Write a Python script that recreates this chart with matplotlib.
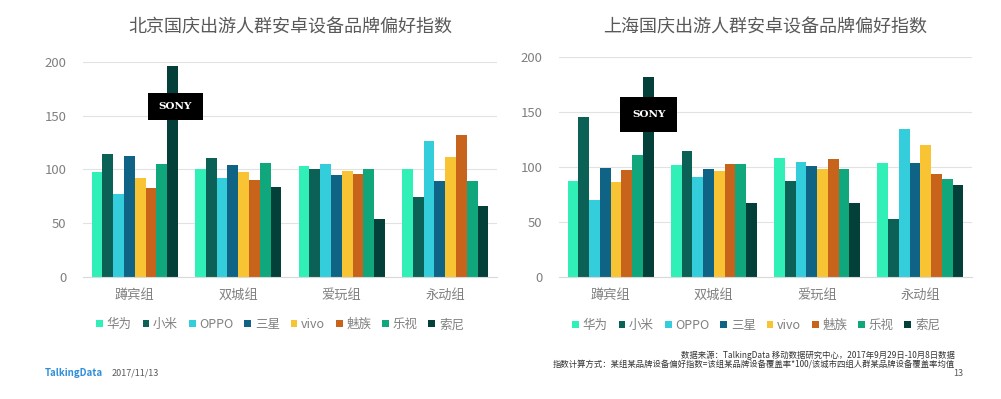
import numpy as np
import matplotlib
matplotlib.use('Agg')
import matplotlib.pyplot as plt

plt.rcParams['font.family'] = ['Noto Sans CJK SC', 'DejaVu Sans']

# data

groups = ['蹲宾组', '双城组', '爱玩组', '永动组']
brands = ['华为', '小米', 'OPPO', '三星', 'vivo', '魅族', '乐视', '索尼']
colors = ['#30F0B8', '#0B6155', '#33CDDC', '#0F6486', '#F8C433', '#C8631B', '#0FA77B', '#04403A']

beijing = [
    [98, 100, 103, 100],   # 华为
    [114, 111, 100, 74],   # 小米
    [77, 92, 105, 127],    # OPPO
    [113, 104, 95, 89],    # 三星
    [92, 98, 99, 112],     # vivo
    [83, 90, 96, 132],     # 魅族
    [105, 106, 100, 89],   # 乐视
    [197, 84, 54, 66],     # 索尼
]
shanghai = [
    [87, 102, 108, 104],
    [146, 115, 87, 53],
    [70, 91, 105, 135],
    [99, 98, 101, 104],
    [86, 96, 98, 120],
    [97, 103, 107, 94],
    [111, 103, 98, 89],
    [182, 67, 67, 84],
]

titles = ['北京国庆出游人群安卓设备品牌偏好指数', '上海国庆出游人群安卓设备品牌偏好指数']

fig = plt.figure(figsize=(10.01, 3.99), dpi=100)
ax1 = fig.add_axes([83 / 1001, 1 - 276.7 / 399, 414 / 1001, 214.4 / 399])
ax2 = fig.add_axes([559 / 1001, 1 - 276.7 / 399, 413 / 1001, 219.4 / 399])

width = 0.104
x = np.arange(len(groups))


def draw(ax, data, title, sony_x, sony_y, pad_x, pad_y):
    for i, vals in enumerate(data):
        ax.bar(x + (i - 3.5) * width, vals, width, color=colors[i], label=brands[i], zorder=2)
    ax.set_xlim(-0.5, 3.5)
    ax.set_ylim(0, 200)
    ax.set_yticks([0, 50, 100, 150, 200])
    ax.grid(axis='y', color='#e2e2e2', linewidth=0.8, zorder=0)
    for s in ['top', 'right', 'left']:
        ax.spines[s].set_visible(False)
    ax.spines['bottom'].set_color('#d9d9d9')
    ax.tick_params(axis='both', length=0, colors='#808080', labelsize=9.5)
    ax.tick_params(axis='y', pad=12)
    ax.tick_params(axis='x', pad=9)
    ax.set_xticks(x)
    ax.set_xticklabels(groups)
    pos = ax.get_position()
    fig.text(pos.x0 + pos.width / 2, 1 - 28 / 399, title, fontsize=13, color='#595959',
             ha='center', va='center')
    # SONY badge over the 索尼 bar
    cx = 3.5 * width + sony_x
    ax.text(cx, sony_y, 'SONY', color='white', fontsize=7.5, fontweight='bold',
            family='DejaVu Serif', ha='center', va='center', zorder=5)
    ax.add_patch(plt.Rectangle((cx - pad_x, sony_y - pad_y), 2 * pad_x, 2 * pad_y,
                               facecolor='black', edgecolor='none', zorder=4))
    ax.legend(loc='upper left', bbox_to_anchor=(0.02, -0.17), ncol=8, frameon=False,
              handlelength=0.55, handleheight=0.55, handletextpad=0.3, columnspacing=0.85,
              fontsize=9, labelcolor='#808080', borderaxespad=0)


draw(ax1, beijing, titles[0], 0.03, 159, 0.27, 12.6)
draw(ax2, shanghai, titles[1], 0.005, 148, 0.276, 16)

fig.text(45 / 1001, 1 - 373 / 399, 'TalkingData', color='#2F8FD8', fontsize=7, fontweight='bold', va='center')
fig.text(112 / 1001, 1 - 373 / 399, '2017/11/13', color='#595959', fontsize=6.5, va='center')
fig.text(955 / 1001, 1 - 355 / 399, '数据来源：TalkingData 移动数据研究中心，2017年9月29日-10月8日数据',
         color='#333333', fontsize=6, ha='right', va='center')
fig.text(955 / 1001, 1 - 364 / 399,
         '指数计算方式：某组某品牌设备偏好指数=该组某品牌设备覆盖率*100/该城市四组人群某品牌设备覆盖率均值',
         color='#333333', fontsize=6, ha='right', va='center')
fig.text(953 / 1001, 1 - 373 / 399, '13', color='#595959', fontsize=6.5, va='center')

plt.savefig('out.png', dpi=100)
